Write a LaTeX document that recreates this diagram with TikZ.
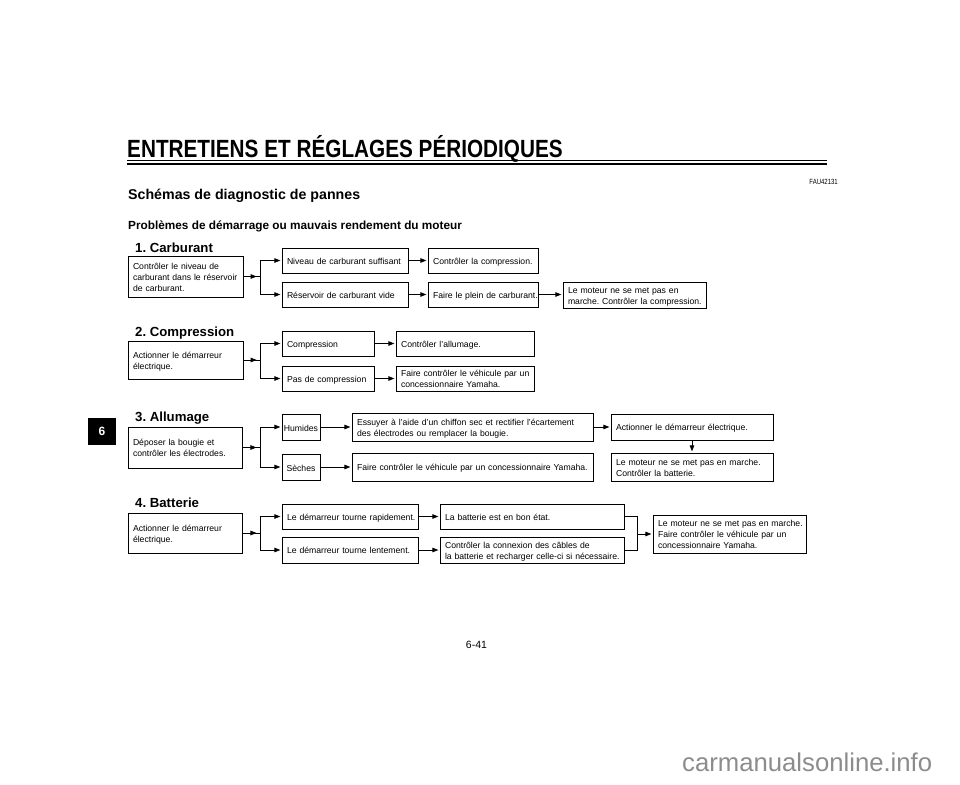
\documentclass[tikz,border=0pt]{standalone}
\usepackage{fontspec}
\setmainfont{Liberation Sans}
\usetikzlibrary{arrows.meta,decorations.markings}
\frenchspacing
\tikzset{
  box/.style={draw=black, line width=0.8pt, inner xsep=5pt, inner ysep=0pt, align=left,
    font=\fontsize{8.65}{11}\selectfont\frenchspacing},
  link/.style={draw=black, line width=0.8pt},
  arr/.style={link, -{Triangle[length=6pt,width=4.5pt]}, shorten >=1.2pt},
  midarr/.style={link, postaction={decorate}, decoration={markings,
    mark=at position 0.8 with {\arrow{Triangle[length=6pt,width=4.5pt]}}}},
  sec/.style={anchor=base west, inner sep=0pt, font=\bfseries\fontsize{13.2}{15}\selectfont\frenchspacing},
  head/.style={anchor=base west, inner sep=0pt},
}
% \boxnode{name}{left}{top}{right}{bottom}{lines}
\newcommand\boxnode[6]{%
  \pgfmathsetmacro\bxw{#4-#2-10}%
  \pgfmathsetmacro\bxh{#5-#3}%
  \node[box, text width=\bxw pt, minimum height=\bxh pt] (#1) at ({(#2+#4)/2},{(#3+#5)/2})
    {\raisebox{-1.5pt}[\height][\depth]{\begin{tabular}{@{}l@{}}#6\end{tabular}}};}
\begin{document}
\begin{tikzpicture}[x=1pt,y=-1pt]
\useasboundingbox (0,0) rectangle (960,784);

% header
\node[head] (title) at (127,157.5) {\scalebox{0.875}[1.05]{\bfseries\fontsize{23.7}{26}\selectfont ENTRETIENS ET RÉGLAGES PÉRIODIQUES}};
\draw[line width=1pt] (127,160) -- (827,160);
\draw[line width=2pt] (127,163.5) -- (827,163.5);
\node[anchor=base east, inner sep=0pt] (code) at (838,184) {\scalebox{0.8}[1]{\fontsize{7.5}{9}\selectfont FAU42131}};
\node[head] (h1) at (128,199) {\bfseries\fontsize{14.2}{17}\selectfont Schémas de diagnostic de pannes};
\node[head] (h2) at (128,229.5) {\bfseries\fontsize{11.8}{14}\selectfont Problèmes de démarrage ou mauvais rendement du moteur};

% side tab
\node[fill=black, minimum width=28pt, minimum height=27pt, inner sep=0pt, text=white,
  font=\bfseries\fontsize{12}{14}\selectfont] (tab) at (102,431) {6};

% ---- 1. Carburant
\node[sec] (l1) at (135,252) {1. Carburant};
\boxnode{a1}{128}{256}{243}{297}{Contrôler le niveau de\\carburant dans le réservoir\\de carburant.}
\boxnode{b1}{282}{248}{408}{273}{Niveau de carburant suffisant}
\boxnode{c1}{428}{248}{538}{273}{Contrôler la compression.}
\boxnode{b2}{282}{282}{408}{307}{Réservoir de carburant vide}
\boxnode{c2}{428}{282}{538}{307}{Faire le plein de carburant.}
\boxnode{d2}{563}{282}{706}{308}{Le moteur ne se met pas en\\marche. Contrôler la compression.}
\coordinate (s1) at (260,276.5);
\draw[midarr] (a1.east) -- (s1);
\draw[arr] (s1) |- (b1.west);
\draw[arr] (s1) |- (b2.west);
\draw[arr] (b1.east) -- (b1.east -| c1.west);
\draw[arr] (b2.east) -- (b2.east -| c2.west);
\draw[arr] (c2.east) -- (c2.east -| d2.west);

% ---- 2. Compression
\node[sec] (l2) at (135,336) {2. Compression};
\boxnode{a2}{128}{341}{243}{379}{Actionner le démarreur\\électrique.}
\boxnode{b3}{282}{331}{374}{356}{Compression}
\boxnode{c3}{396}{331}{534}{356}{Contrôler l'allumage.}
\boxnode{b4}{282}{366}{374}{391}{Pas de compression}
\boxnode{c4}{396}{366}{534}{391}{Faire contrôler le véhicule par un\\concessionnaire Yamaha.}
\coordinate (s2) at (260,360);
\draw[midarr] (a2.east) -- (s2);
\draw[arr] (s2) |- (b3.west);
\draw[arr] (s2) |- (b4.west);
\draw[arr] (b3.east) -- (b3.east -| c3.west);
\draw[arr] (b4.east) -- (b4.east -| c4.west);

% ---- 3. Allumage
\node[sec] (l3) at (135,421) {3. Allumage};
\boxnode{a3}{128}{427}{242}{468}{Déposer la bougie et\\contrôler les électrodes.}
\node[box, inner xsep=0pt, align=center, minimum width=38pt, minimum height=26pt] (b5) at (301,427) {\raisebox{-1.5pt}[\height][\depth]{Humides}};
\boxnode{c5}{352}{413}{593}{441}{Essuyer à l'aide d'un chiffon sec et rectifier l'écartement\\des électrodes ou remplacer la bougie.}
\boxnode{d5}{611}{414}{773}{440}{Actionner le démarreur électrique.}
\node[box, inner xsep=0pt, align=center, minimum width=38pt, minimum height=26pt] (b6) at (301,467) {\raisebox{-1.5pt}[\height][\depth]{Sèches}};
\boxnode{c6}{352}{453}{593}{481}{Faire contrôler le véhicule par un concessionnaire Yamaha.}
\boxnode{d6}{611}{453}{773}{481}{Le moteur ne se met pas en marche.\\Contrôler la batterie.}
\coordinate (s3) at (260,447.5);
\draw[midarr] (a3.east) -- (s3);
\draw[arr] (s3) |- (b5.west);
\draw[arr] (s3) |- (b6.west);
\draw[arr] (b5.east) -- (b5.east -| c5.west);
\draw[arr] (b6.east) -- (b6.east -| c6.west);
\draw[arr] (c5.east) -- (c5.east -| d5.west);
\draw[arr] (d5.south) -- (d6.north);

% ---- 4. Batterie
\node[sec] (l4) at (135,507) {4. Batterie};
\boxnode{a4}{128}{513}{242}{553}{Actionner le démarreur\\électrique.}
\boxnode{b7}{282}{504}{418}{529}{Le démarreur tourne rapidement.}
\boxnode{c7}{440}{504}{624}{529}{La batterie est en bon état.}
\boxnode{b8}{282}{537}{418}{563}{Le démarreur tourne lentement.}
\boxnode{c8}{440}{537}{624}{563}{Contrôler la connexion des câbles de\\la batterie et recharger celle-ci si nécessaire.}
\boxnode{dd}{653}{515}{806}{553}{Le moteur ne se met pas en marche.\\Faire contrôler le véhicule par un\\concessionnaire Yamaha.}
\coordinate (s4) at (260,533);
\draw[midarr] (a4.east) -- (s4);
\draw[arr] (s4) |- (b7.west);
\draw[arr] (s4) |- (b8.west);
\draw[arr] (b7.east) -- (b7.east -| c7.west);
\draw[arr] (b8.east) -- (b8.east -| c8.west);
\coordinate (m4) at (637,534);
\draw[link] (c7.east) -| (m4);
\draw[link] (c8.east) -| (m4);
\draw[arr] (m4) -- (dd.west);

% footer
\node (pg) at (476.5,645) {\fontsize{10.5}{12}\selectfont 6-41};
\node[anchor=base west, inner sep=0pt, text=black!45] (wm) at (682,771.7) {\fontsize{25.7}{30}\selectfont carmanualsonline.info};
\end{tikzpicture}
\end{document}
